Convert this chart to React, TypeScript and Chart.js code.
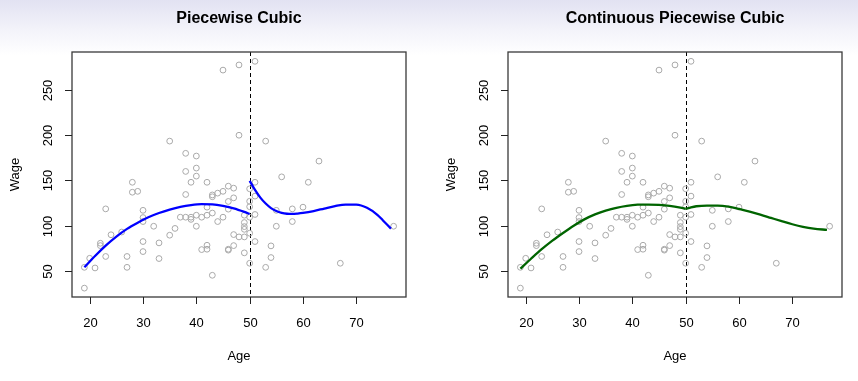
import React, { useEffect, useRef } from "react";
import { Chart, registerables } from "chart.js";

Chart.register(...registerables);

// ---- data ----
const ages = [
  19, 19, 20, 21, 22, 22, 23, 23, 24, 26,
  27, 27, 28, 28, 29, 30, 30, 30, 30, 30,
  32, 33, 33, 35, 35, 36, 37, 38, 38, 38,
  38, 39, 39, 39, 40, 40, 40, 40, 40, 41,
  41, 42, 42, 42, 42, 42, 43, 43, 43, 43,
  44, 44, 45, 45, 45, 46, 46, 46, 46, 46,
  47, 47, 47, 47, 48, 48, 48, 49, 49, 49,
  49, 49, 49, 50, 50, 50, 50, 50, 50, 51,
  51, 51, 51, 51, 53, 53, 54, 54, 55, 55,
  56, 58, 58, 60, 61, 63, 67, 77,
];
const wages = [
  31, 54, 64, 53.3, 80.6, 78, 118.6, 66, 90, 93,
  66, 54, 148, 137, 138, 117, 109, 104.6, 82.5, 71.4,
  99.4, 81, 63.7, 193.5, 89.5, 97, 109.4, 180, 160, 134.5,
  109.4, 148, 109.4, 107, 177, 163.7, 154.8, 111.6, 99.4, 109.4,
  73.6, 148, 120.5, 111.6, 78.4, 74, 134, 132, 114, 45.2,
  136, 104.6, 272, 138, 109.4, 143.7, 126.8, 118.3, 74, 73,
  141.5, 130.8, 90.2, 78, 277.7, 200, 87.6, 111.6, 103.5, 99,
  96, 87.6, 70, 140.8, 127, 121, 109.4, 91.7, 58.5, 281.7,
  148, 132.7, 112.4, 82.5, 193.5, 54, 77.7, 64.8, 117, 99.4,
  154, 118.6, 104.6, 120.5, 148, 171.4, 58.5, 99.4,
];

const xTicks = [20, 30, 40, 50, 60, 70];
const yTicks = [50, 100, 150, 200, 250];
const knot = 50;
const xRange = [16.68, 79.32];
const yRange = [21.2, 292];

// Piecewise cubic (discontinuous at the knot)
const pwLeftAge = [19, 21, 23, 25, 27, 29, 31, 33, 35, 37, 39, 41, 43, 45, 47, 49, 50];
const pwLeftWage = [54, 66.5, 78, 88, 96.5, 103.3, 109.3, 114, 117.8, 120.8, 122.8, 123.8, 123.5, 121.8, 119.2, 115.3, 113];
const pwRightAge = [50, 51, 52, 53, 54, 55, 56, 57, 58, 59, 60, 62, 64, 66, 68, 70, 72, 74, 75, 76.5];
const pwRightWage = [149.6, 139.5, 131, 124.5, 119.5, 116.2, 114.2, 113.2, 113, 113.4, 114.1, 116.2, 119, 121.7, 123.4, 123.3, 119.8, 111.8, 105.8, 96.8];

// Continuous piecewise cubic
const cpLeftAge = [19, 21, 23, 25, 27, 29, 31, 33, 35, 37, 39, 41, 43, 45, 47, 49, 50];
const cpLeftWage = [52.6, 63.5, 74, 83.5, 92, 100, 107, 112.5, 116.6, 119.8, 122, 123.2, 123.4, 123, 122, 120, 118.6];
const cpRightAge = [50, 51, 52, 54, 56, 58, 60, 62, 64, 66, 68, 70, 72, 74, 76.5];
const cpRightWage = [118.6, 120.3, 121.5, 122.3, 122.2, 121, 118.5, 115.5, 112.2, 108.6, 105, 101.6, 98.8, 96.8, 95.4];

const FONT = '"Liberation Sans", Arial, Helvetica, sans-serif';

type Curve = { age: number[]; wage: number[]; color: string };

function Panel(props: { left: number; padLeft: number; padRight: number; title: string; curves: Curve[] }) {
  const ref = useRef<HTMLCanvasElement>(null);
  useEffect(() => {
    const title = props.title;
    const decor = {
      id: "decor",
      beforeDatasetsDraw(chart: any) {
        const { ctx, chartArea, scales } = chart;
        const px = Math.round(scales.x.getPixelForValue(knot)) + 0.5;
        ctx.save();
        ctx.strokeStyle = "#000";
        ctx.lineWidth = 1;
        ctx.setLineDash([4, 3]);
        ctx.beginPath();
        ctx.moveTo(px, chartArea.top);
        ctx.lineTo(px, chartArea.bottom);
        ctx.stroke();
        ctx.restore();
      },
      afterDraw(chart: any) {
        const { ctx, chartArea, scales } = chart;
        const { left, right, top, bottom } = chartArea;
        ctx.save();
        // box
        ctx.strokeStyle = "#3a3a3a";
        ctx.lineWidth = 1.3;
        ctx.strokeRect(left, top, right - left, bottom - top);
        // ticks
        ctx.strokeStyle = "#222";
        ctx.lineWidth = 1;
        ctx.fillStyle = "#000";
        ctx.font = `13px ${FONT}`;
        ctx.textAlign = "center";
        ctx.textBaseline = "middle";
        for (const v of xTicks) {
          const p = Math.round(scales.x.getPixelForValue(v)) + 0.5;
          ctx.beginPath();
          ctx.moveTo(p, bottom);
          ctx.lineTo(p, bottom + 7);
          ctx.stroke();
          ctx.fillText(String(v), p, bottom + 26);
        }
        for (const v of yTicks) {
          const p = Math.round(scales.y.getPixelForValue(v)) + 0.5;
          ctx.beginPath();
          ctx.moveTo(left - 7, p);
          ctx.lineTo(left, p);
          ctx.stroke();
          ctx.save();
          ctx.translate(left - 24, p);
          ctx.rotate(-Math.PI / 2);
          ctx.fillText(String(v), 0, 0);
          ctx.restore();
        }
        // axis titles
        const cx = (left + right) / 2;
        ctx.fillText("Age", cx, 356);
        ctx.save();
        ctx.translate(left - 57, (top + bottom) / 2);
        ctx.rotate(-Math.PI / 2);
        ctx.fillText("Wage", 0, 0);
        ctx.restore();
        // title
        ctx.font = `bold 16px ${FONT}`;
        ctx.fillText(title, cx, 19);
        ctx.restore();
      },
    };

    const points = ages.map((a, i) => ({ x: a, y: wages[i] }));
    const curveSets = props.curves.map((c) => ({
      data: c.age.map((a, i) => ({ x: a, y: c.wage[i] })),
      showLine: true,
      borderColor: c.color,
      backgroundColor: c.color,
      borderWidth: 2.3,
      pointRadius: 0,
      cubicInterpolationMode: "monotone",
      fill: false,
    }));

    const chart = new Chart(ref.current as HTMLCanvasElement, {
      type: "scatter",
      data: {
        datasets: [
          ...curveSets,
          {
            data: points,
            showLine: false,
            pointRadius: 2.9,
            pointBorderWidth: 1,
            pointBorderColor: "#a9a9a9",
            pointBackgroundColor: "rgba(0,0,0,0)",
            borderColor: "#a9a9a9",
            backgroundColor: "rgba(0,0,0,0)",
          },
        ],
      } as any,
      options: {
        responsive: false,
        animation: false,
        devicePixelRatio: 1,
        events: [],
        layout: { padding: { left: props.padLeft, right: props.padRight, top: 52, bottom: 84 } },
        scales: {
          x: { type: "linear", display: false, min: xRange[0], max: xRange[1] },
          y: { type: "linear", display: false, min: yRange[0], max: yRange[1] },
        },
        plugins: {
          legend: { display: false },
          tooltip: { enabled: false },
          title: { display: false },
        },
      } as any,
      plugins: [decor],
    });
    return () => chart.destroy();
  }, []);
  return (
    <canvas
      ref={ref}
      width={429}
      height={381}
      style={{ position: "absolute", left: props.left, top: 0, width: 429, height: 381 }}
    />
  );
}

export default function App() {
  return (
    <div
      style={{
        position: "fixed",
        left: 0,
        top: 0,
        width: 858,
        height: 381,
        overflow: "hidden",
        background: "linear-gradient(to bottom, #e2e2f2 0px, #f3f3fa 30px, #ffffff 55px, #ffffff 100%)",
      }}
    >
      <Panel
        left={0}
        padLeft={72}
        padRight={23}
        title="Piecewise Cubic"
        curves={[
          { age: pwLeftAge, wage: pwLeftWage, color: "#0000ff" },
          { age: pwRightAge, wage: pwRightWage, color: "#0000ff" },
        ]}
      />
      <Panel
        left={429}
        padLeft={79}
        padRight={16}
        title="Continuous Piecewise Cubic"
        curves={[
          { age: cpLeftAge, wage: cpLeftWage, color: "#006400" },
          { age: cpRightAge, wage: cpRightWage, color: "#006400" },
        ]}
      />
    </div>
  );
}
